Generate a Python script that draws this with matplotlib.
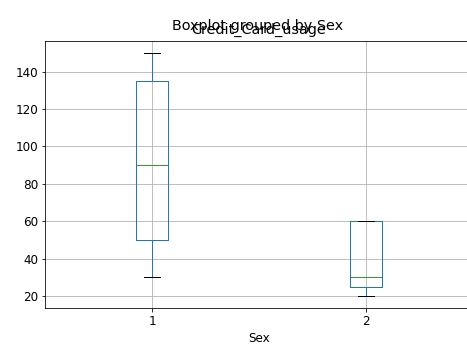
import matplotlib
matplotlib.use("Agg")
import matplotlib.pyplot as plt

# summary stats, one entry per Sex group
groups = ["1", "2"]
whislo = [30, 20]
q1 = [50, 25]
med = [90, 30]
q3 = [135, 60]
whishi = [150, 60]

stats = []
for i in range(len(groups)):
    stats.append(dict(label=groups[i], whislo=whislo[i], q1=q1[i], med=med[i],
                      q3=q3[i], whishi=whishi[i], fliers=[]))

plt.rcParams['font.size'] = 12

fig = plt.figure(figsize=(467/72, 345/72), dpi=72)
# the axes run a little past the right edge, as in the cropped original
ax = fig.add_axes([45/467, 37/345, 428/467, 267/345])

bp = ax.bxp(stats, widths=0.15)
plt.setp(bp['boxes'], color="#1f77b4")
plt.setp(bp['whiskers'], color="#1f77b4")
plt.setp(bp['caps'], color="k")
plt.setp(bp['medians'], color="#2ca02c")

ax.grid(True)
ax.set_xlim(0.5, 2.5)
ax.set_title("Credit_Card_usage", fontsize=14.4, pad=7)
ax.set_xlabel("Sex", labelpad=4)
fig.suptitle("Boxplot grouped by Sex", x=258/467, y=1 - 30/345,
             va="baseline", fontsize=14.4)

fig.savefig("out.png", dpi=72)
